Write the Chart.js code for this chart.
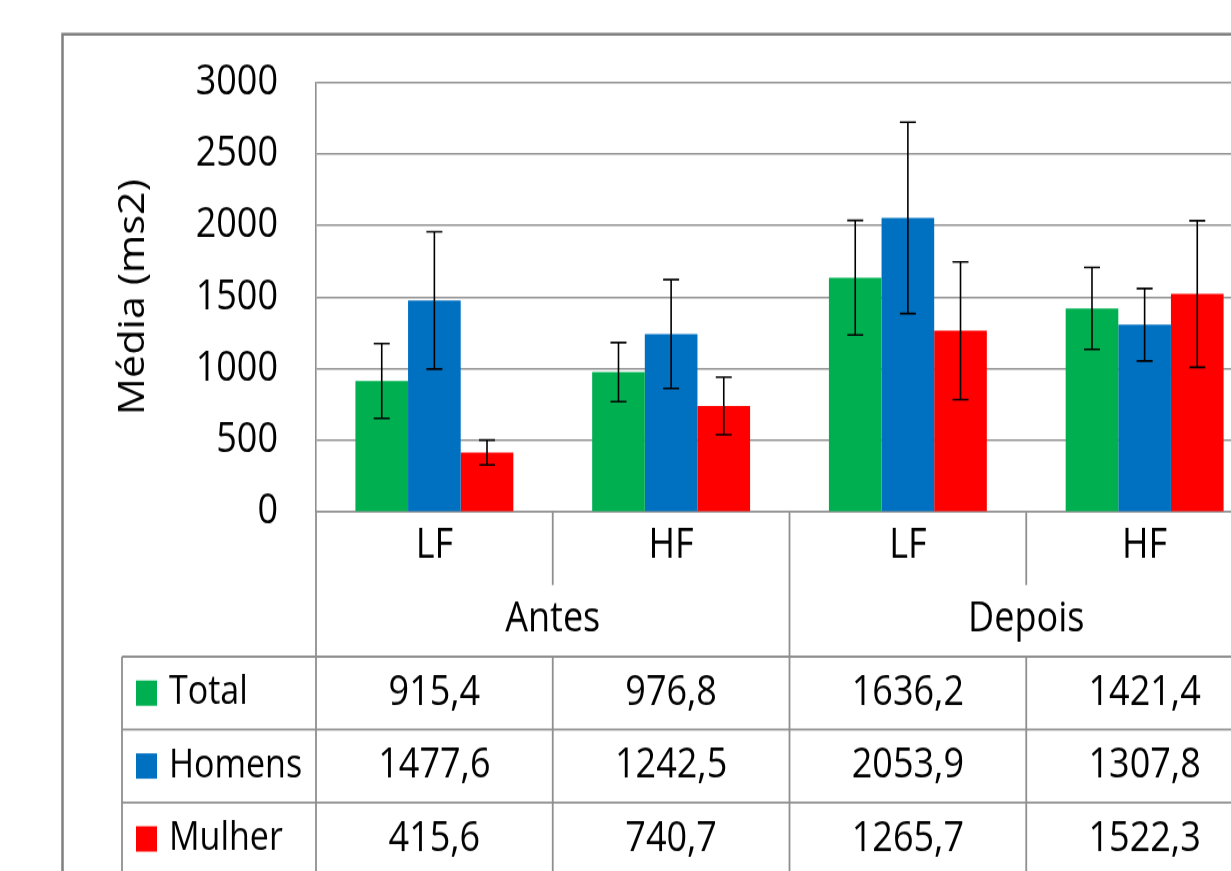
<!DOCTYPE html>
<html>
<head>
<meta charset="utf-8">
<title>Média (ms2)</title>
<script src="https://cdn.jsdelivr.net/npm/chart.js@4.4.1/dist/chart.umd.min.js"></script>
<style>
  html { overflow: hidden; }
  body { margin: 0; padding: 0; background: #fff; width: 1231px; height: 871px; }
  /* the reference is slightly stretched vertically, so is this */
  #wrap { width: 1300px; height: 758px; transform: scaleY(1.15); transform-origin: 0 0; }
</style>
</head>
<body>
<div id="wrap"><canvas id="chart" width="1300" height="758"></canvas></div>
<script>
const categories = ['LF', 'HF', 'LF', 'HF'];
const groups = ['Antes', 'Depois'];
const seriesNames = ['Total', 'Homens', 'Mulher'];
const totalValues = [915.4, 976.8, 1636.2, 1421.4];
const homensValues = [1477.6, 1242.5, 2053.9, 1307.8];
const mulherValues = [415.6, 740.7, 1265.7, 1522.3];
// error bar half-lengths
const totalErrors = [261, 206, 400, 286];
const homensErrors = [479, 380, 668, 253];
const mulherErrors = [87, 201, 481, 512];
const yTicks = [0, 500, 1000, 1500, 2000, 2500, 3000];

const colors = ['#00B050', '#0070C0', '#FF0000'];
const seriesValues = [totalValues, homensValues, mulherValues];
const seriesErrors = [totalErrors, homensErrors, mulherErrors];

const lineColor = '#8f8f8f';
const textFont = '36px "Open Sans"';
const rowLabelFont = '34px "Open Sans"';

Chart.defaults.font.family = '"Open Sans"';
Chart.defaults.font.size = 36;
Chart.defaults.color = '#000';

/*
* outer frame of the chart, only its top and left edge are in the picture
*/
const framePlugin = {
    id: 'frame',
    beforeDraw(chart) {
        const ctx = chart.ctx;
        ctx.save();
        ctx.strokeStyle = '#7f7f7f';
        ctx.lineWidth = 2.5;
        ctx.beginPath();
        ctx.moveTo(62.5, chart.height + 5);
        ctx.lineTo(62.5, 29.8);
        ctx.lineTo(chart.width + 5, 29.8);
        ctx.stroke();
        ctx.restore();
    }
};

/*
* error bars with caps, on top of each bar
*/
const errorBarPlugin = {
    id: 'errorBars',
    afterDatasetsDraw(chart) {
        const ctx = chart.ctx;
        const y = chart.scales.y;
        ctx.save();
        ctx.strokeStyle = '#000';
        ctx.lineWidth = 1.6;
        chart.data.datasets.forEach((ds, di) => {
            const errors = seriesErrors[di];
            chart.getDatasetMeta(di).data.forEach((bar, i) => {
                const v = ds.data[i];
                const top = y.getPixelForValue(v + errors[i]);
                const bottom = y.getPixelForValue(v - errors[i]);
                ctx.beginPath();
                ctx.moveTo(bar.x, top);
                ctx.lineTo(bar.x, bottom);
                ctx.moveTo(bar.x - 8, top);
                ctx.lineTo(bar.x + 8, top);
                ctx.moveTo(bar.x - 8, bottom);
                ctx.lineTo(bar.x + 8, bottom);
                ctx.stroke();
            });
        });
        ctx.restore();
    }
};

/*
* group labels under the axis and the data table with its legend keys
*/
const tablePlugin = {
    id: 'dataTable',
    afterDraw(chart) {
        const ctx = chart.ctx;
        const x = chart.scales.x;
        const area = chart.chartArea;
        const step = x.getPixelForValue(1) - x.getPixelForValue(0);
        const edge = i => x.getPixelForValue(i) - step / 2;
        const tickEnd = 508.7;
        const tableTop = 571;
        const rowH = 63.4;
        const tableLeft = 122;
        const bottom = chart.height + 5;

        ctx.save();
        ctx.strokeStyle = lineColor;
        ctx.lineWidth = 1.8;
        ctx.beginPath();
        // short ticks between LF and HF
        [1, 3].forEach(i => {
            ctx.moveTo(edge(i), area.bottom);
            ctx.lineTo(edge(i), tickEnd);
            ctx.moveTo(edge(i), tableTop);
            ctx.lineTo(edge(i), bottom);
        });
        // group boundaries run down through the table
        [0, 2, 4].forEach(i => {
            ctx.moveTo(edge(i), area.bottom);
            ctx.lineTo(edge(i), bottom);
        });
        ctx.moveTo(tableLeft, tableTop);
        ctx.lineTo(tableLeft, bottom);
        for (let r = 0; r <= seriesNames.length; r++) {
            ctx.moveTo(tableLeft, tableTop + r * rowH);
            ctx.lineTo(chart.width + 5, tableTop + r * rowH);
        }
        ctx.stroke();

        ctx.font = textFont;
        ctx.fillStyle = '#000';
        ctx.textBaseline = 'middle';
        ctx.textAlign = 'center';
        groups.forEach((g, gi) => {
            const cx = (edge(gi * 2) + edge(gi * 2 + 2)) / 2;
            ctx.fillText(g, cx, 539);
        });

        seriesNames.forEach((name, r) => {
            const cy = tableTop + r * rowH + rowH / 2;
            ctx.fillStyle = colors[r];
            ctx.fillRect(136, cy - 11, 21, 22);
            ctx.fillStyle = '#000';
            ctx.textAlign = 'left';
            ctx.font = rowLabelFont;
            ctx.fillText(name, 169, cy);
            ctx.font = textFont;
            ctx.textAlign = 'center';
            seriesValues[r].forEach((v, i) => {
                ctx.fillText(v.toFixed(1).replace('.', ','), x.getPixelForValue(i), cy);
            });
        });
        ctx.restore();
    }
};

const chartData = {
    labels: categories,
    datasets: seriesNames.map((name, i) => ({
        label: name,
        data: seriesValues[i],
        backgroundColor: colors[i],
        borderWidth: 0,
        barPercentage: 1,
        categoryPercentage: 0.667
    }))
};

const chartOptions = {
    responsive: false,
    animation: false,
    layout: {
        padding: { top: 71.6, right: 37, left: 0, bottom: 0 }
    },
    scales: {
        y: {
            min: 0,
            max: 3000,
            afterFit: scale => { scale.width = 316; },
            afterBuildTicks: scale => {
                scale.ticks = yTicks.map(v => ({ value: v }));
            },
            grid: {
                color: lineColor,
                lineWidth: 1.6,
                drawTicks: false
            },
            border: {
                display: true,
                color: lineColor,
                width: 1.6
            },
            ticks: {
                padding: 38,
                callback: value => String(value)
            },
            title: {
                display: true,
                text: 'Média (ms2)',
                padding: { top: 112, bottom: 0 }
            }
        },
        x: {
            afterFit: scale => { scale.height = 758 - 445.2; },
            grid: {
                display: false,
                drawTicks: false
            },
            border: {
                display: true,
                color: lineColor,
                width: 1.6
            },
            ticks: {
                padding: 8,
                maxRotation: 0,
                autoSkip: false
            }
        }
    },
    plugins: {
        legend: { display: false },
        tooltip: { enabled: false }
    }
};

new Chart(document.querySelector('#chart'), {
    type: 'bar',
    data: chartData,
    options: chartOptions,
    plugins: [framePlugin, errorBarPlugin, tablePlugin]
});
</script>
</body>
</html>
